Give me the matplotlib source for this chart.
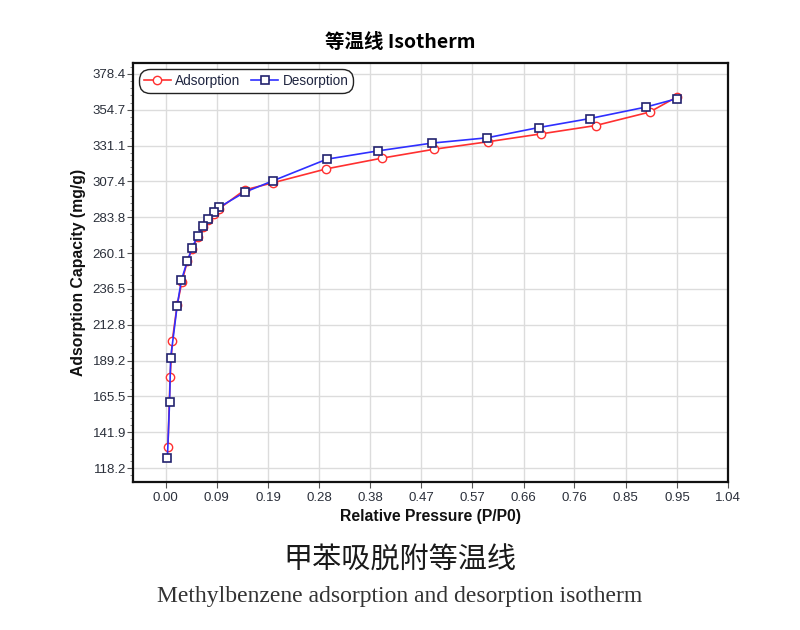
import numpy as np
import matplotlib
matplotlib.use("Agg")
import matplotlib.pyplot as plt
from matplotlib.ticker import FixedLocator, AutoMinorLocator

# adsorption branch
ads_p = [0.004, 0.008, 0.012, 0.021, 0.030, 0.040, 0.049, 0.059, 0.069, 0.078, 0.089,
         0.099, 0.146, 0.198, 0.297, 0.400, 0.497, 0.596, 0.694, 0.795, 0.895, 0.945]
ads_q = [132.3, 178.1, 202.1, 225.8, 241.3, 255.0, 263.0, 270.5, 277.0, 282.0, 286.0,
         289.5, 301.8, 306.5, 315.7, 322.8, 328.7, 333.6, 338.8, 344.3, 353.2, 363.1]

# desorption branch
des_p = [0.945, 0.888, 0.784, 0.690, 0.594, 0.492, 0.393, 0.298, 0.198, 0.146, 0.099,
         0.089, 0.078, 0.069, 0.059, 0.049, 0.040, 0.029, 0.021, 0.009, 0.007, 0.003]
des_q = [362.0, 356.5, 348.9, 343.0, 336.2, 332.7, 327.6, 322.1, 307.8, 300.3, 290.4,
         287.1, 282.9, 278.1, 271.7, 263.7, 254.9, 242.4, 225.2, 190.7, 162.0, 124.6]

x_ticks = [0.0, 0.0945, 0.189, 0.2836, 0.378, 0.4727, 0.567, 0.662, 0.756, 0.851, 0.9455, 1.04]
x_labels = ['0.00', '0.09', '0.19', '0.28', '0.38', '0.47', '0.57', '0.66', '0.76', '0.85', '0.95', '1.04']
y_ticks = [118.2, 141.85, 165.5, 189.15, 212.8, 236.45, 260.1, 283.75, 307.4, 331.05, 354.7, 378.35]
y_labels = ['118.2', '141.9', '165.5', '189.2', '212.8', '236.5', '260.1', '283.8',
            '307.4', '331.1', '354.7', '378.4']

plt.rcParams['font.family'] = ['Liberation Sans', 'DejaVu Sans']

fig = plt.figure(figsize=(8, 6.3), dpi=100)
ax = fig.add_axes([0.166, 0.235, 0.744, 0.665])

ax.plot(ads_p, ads_q, color='#ff3030', lw=1.2, marker='o', ms=6, mfc='white',
        mec='#ff3030', mew=1.0, label='Adsorption', zorder=3)
ax.plot(des_p, des_q, color='#2f2fff', lw=1.2, marker='s', ms=5.5, mfc='white',
        mec='#23236e', mew=1.2, label='Desorption', zorder=4)

ax.set_xlim(-0.061, 1.04)
ax.set_ylim(109.0, 385.6)
ax.xaxis.set_major_locator(FixedLocator(x_ticks))
ax.set_xticklabels(x_labels)
ax.yaxis.set_major_locator(FixedLocator(y_ticks))
ax.set_yticklabels(y_labels)
ax.yaxis.set_minor_locator(AutoMinorLocator(5))
ax.tick_params(axis='both', which='major', labelsize=9.5, length=4, width=0.8,
               color='#555555', labelcolor='#2a2f3a')
ax.tick_params(axis='y', which='major', pad=1)
ax.tick_params(axis='y', which='minor', length=2, width=0.6, color='#777777')
ax.grid(True, which='major', color='#dcdcdc', lw=1.0, zorder=0)
ax.set_axisbelow(True)
for s in ax.spines.values():
    s.set_linewidth(1.6)
    s.set_color('#111111')

ax.set_xlabel('Relative Pressure (P/P0)', fontsize=11.3, fontweight='bold', labelpad=3,
              color='#111111')
ax.set_ylabel('Adsorption Capacity (mg/g)', fontsize=11.3, fontweight='bold', labelpad=5,
              color='#111111')

leg = ax.legend(loc='upper left', ncol=2, fontsize=9.8, frameon=True, fancybox=True,
                handlelength=2.0, handletextpad=0.3, columnspacing=0.8,
                borderpad=0.1, borderaxespad=0.7, facecolor='white', framealpha=1)
for t in leg.get_texts():
    t.set_color('#1f2540')
leg.get_frame().set_edgecolor('#222222')
leg.get_frame().set_linewidth(1.0)
leg.get_frame().set_boxstyle('round', pad=0.25, rounding_size=0.8)

fig.text(0.5, 0.932, '等温线 Isotherm', ha='center', va='center', fontsize=14,
         fontweight='bold', family=['Noto Sans CJK SC', 'DejaVu Sans'])
fig.text(0.5, 0.11, '甲苯吸脱附等温线', ha='center', va='center', fontsize=21,
         color='#1a1a1a', family=['Noto Sans CJK SC', 'DejaVu Sans'])
fig.text(0.5, 0.053, 'Methylbenzene adsorption and desorption isotherm', ha='center',
         va='center', fontsize=17, color='#333333', family=['Liberation Serif', 'DejaVu Serif'])

fig.savefig('out.png', dpi=100)
